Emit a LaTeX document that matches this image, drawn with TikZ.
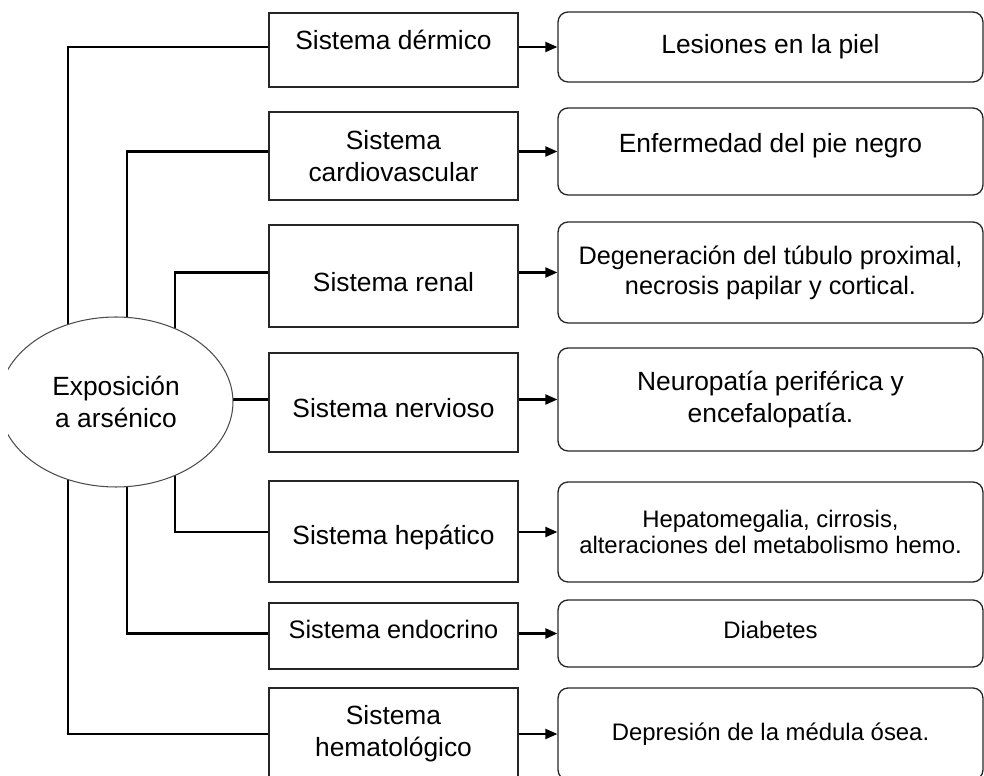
\documentclass[tikz,border=0pt]{standalone}
\usepackage{fontspec}
\setmainfont{Liberation Sans}
\usetikzlibrary{shapes, arrows.meta, backgrounds}

\begin{document}
\begin{tikzpicture} [
  x=0.02cm, y=-0.02cm,
  font=\fontsize{15}{18.2}\selectfont,
  sis/.style={
    draw=black!85, line width=0.75pt, rectangle, minimum width=4.98cm, align=center, inner sep=0pt
  },
  efecto/.style={
    draw=black!85, line width=0.75pt, rectangle, rounded corners=2mm, minimum width=8.5cm, align=center, inner sep=0pt},
  centro/.style={
    draw=black!70, line width=0.6pt, ellipse, fill=white, minimum width=4.68cm, minimum height=3.4cm, align=center, inner sep=0pt},
  medio/.style={font=\fontsize{14.4}{17}\selectfont},
  chico/.style={font=\fontsize{13.6}{14.6}\selectfont},
  tronco/.style={line width=1.2pt},
  flecha/.style={line width=1.2pt, -{Triangle[length=2.4mm, width=2mm]}}
  ]
  \useasboundingbox (0,0) rectangle (984,776);
  \begin{scope}
    \clip (8,0) rectangle (984,776);
    \node(expo)[centro] at (116,402) {Exposición\\a arsénico};
  \end{scope}
  \node(sis1)[sis, minimum height=1.48cm] at (393.5,50) {\raisebox{12pt}{Sistema dérmico}};
  \node(sis2)[sis, minimum height=1.76cm] at (393.5,156) {Sistema\\cardiovascular};
  \node(sis3)[sis, minimum height=2.04cm, text height=17.8pt] at (393.5,276) {Sistema renal};
  \node(sis4)[sis, minimum height=1.98cm, text height=16.7pt] at (393.5,402.5) {Sistema nervioso};
  \node(sis5)[sis, minimum height=2.02cm, text height=17.8pt] at (393.5,531.5) {Sistema hepático};
  \node(sis6)[sis, medio, minimum height=1.32cm] at (393.5,636) {\raisebox{7.5pt}{Sistema endocrino}};
  \node(sis7)[sis, minimum height=1.84cm] at (393.5,734) {Sistema\\hematológico};
  \node(res1)[efecto, minimum height=1.40cm] at (770.5,47) {Lesiones en la piel};
  \node(res2)[efecto, minimum height=1.74cm] at (770.5,151.5) {\raisebox{10pt}{Enfermedad del pie negro}};
  \node(res3)[efecto, medio, minimum height=2.02cm] at (770.5,272.5) {Degeneración del túbulo proximal,\\necrosis papilar y cortical.};
  \node(res4)[efecto, minimum height=2.06cm] at (770.5,399.5) {Neuropatía periférica y\\encefalopatía.};
  \node(res5)[efecto, chico, minimum height=2.0cm] at (770.5,532) {Hepatomegalia, cirrosis,\\alteraciones del metabolismo hemo.};
  \node(res6)[efecto, chico, minimum height=1.34cm] at (770.5,633.5) {\raisebox{4pt}{Diabetes}};
  \node(res7)[efecto, chico, minimum height=1.84cm] at (770.5,734) {Depresión de la médula ósea.};
  % troncos que salen de la elipse
  \coordinate (k1) at (68,0);
  \coordinate (k2) at (127,0);
  \coordinate (k3) at (175,0);
  \begin{scope}[on background layer]
    \draw[tronco] (expo.center -| k1) |- (res1.west -| sis1.west);
    \draw[tronco] (expo.center -| k2) |- (res2.west -| sis2.west);
    \draw[tronco] (expo.center -| k3) |- (res3.west -| sis3.west);
    \draw[tronco] (expo.center |- res4.west) -- (res4.west -| sis4.west);
    \draw[tronco] (expo.center -| k3) |- (res5.west -| sis5.west);
    \draw[tronco] (expo.center -| k2) |- (res6.west -| sis6.west);
    \draw[tronco] (expo.center -| k1) |- (res7.west -| sis7.west);
  \end{scope}
  \draw[flecha] (res1.west -| sis1.east) -- (res1.west);
  \draw[flecha] (res2.west -| sis2.east) -- (res2.west);
  \draw[flecha] (res3.west -| sis3.east) -- (res3.west);
  \draw[flecha] (res4.west -| sis4.east) -- (res4.west);
  \draw[flecha] (res5.west -| sis5.east) -- (res5.west);
  \draw[flecha] (res6.west -| sis6.east) -- (res6.west);
  \draw[flecha] (res7.west -| sis7.east) -- (res7.west);
\end{tikzpicture}
\end{document}
